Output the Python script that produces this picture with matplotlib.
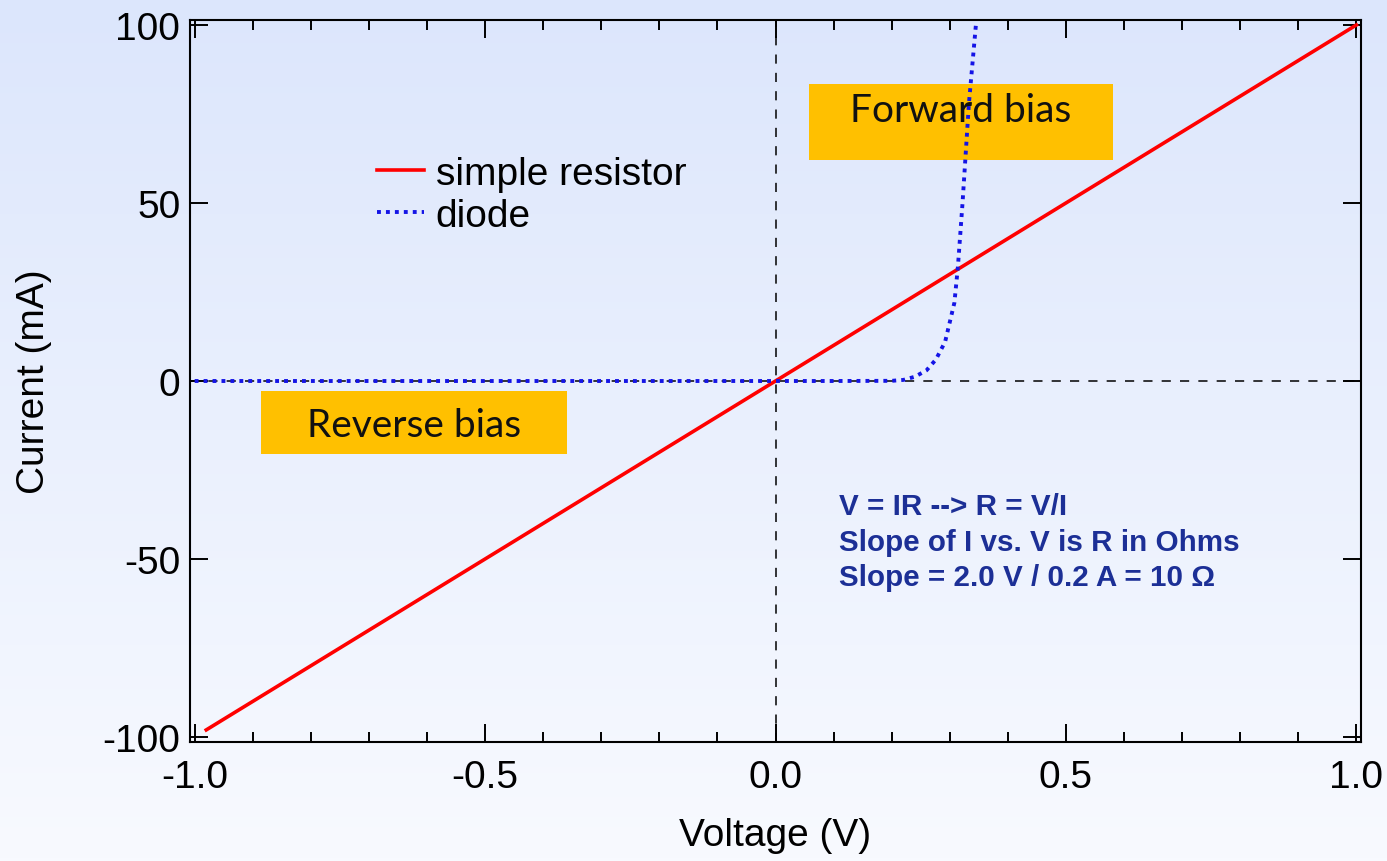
import matplotlib
matplotlib.use('Agg')
import matplotlib.pyplot as plt
from matplotlib.patches import Rectangle
import numpy as np

plt.rcParams['font.family'] = ['Liberation Sans', 'DejaVu Sans']

# ---------------------------------------------------------------------------
# Data
# ---------------------------------------------------------------------------
RES_V = [-0.98, 1.0]
RES_I = [-98.0, 100.0]

DIODE_V = [-1.0, -0.5, 0.0, 0.10, 0.20, 0.22, 0.24, 0.26, 0.276, 0.292,
           0.300, 0.308, 0.314, 0.322, 0.333, 0.345]
DIODE_I = [0.0, 0.0, 0.0, 0.0, 0.05, 0.3, 1.2, 3.0, 6.0, 11.0,
           16.5, 22.0, 32.0, 50.0, 78.0, 100.0]

X_TICKS = [-1.0, -0.5, 0.0, 0.5, 1.0]
X_TICK_LABELS = ['-1.0', '-0.5', '0.0', '0.5', '1.0']
Y_TICKS = [-100, -50, 0, 50, 100]
Y_TICK_LABELS = ['-100', '-50', '0', '50', '100']

NOTE_LINES = ['V = IR --> R = V/I',
              'Slope of I vs. V is R in Ohms',
              'Slope = 2.0 V / 0.2 A = 10 \u03a9']

# ---------------------------------------------------------------------------
# Colours
# ---------------------------------------------------------------------------
RED = '#ff0000'
BLUE = '#1414e6'
GOLD = '#ffc000'
NAVY = '#1c2f96'
BG_TOP = np.array([220, 230, 252]) / 255.0
BG_BOTTOM = np.array([248, 250, 255]) / 255.0

fig = plt.figure(figsize=(13.87, 8.62), dpi=100)

# gradient background
bg = fig.add_axes([0, 0, 1, 1], zorder=0)
t = np.linspace(0, 1, 256)[:, None]
grad = BG_TOP[None, None, :] * (1 - t[:, :, None]) + BG_BOTTOM[None, None, :] * t[:, :, None]
bg.imshow(grad, aspect='auto', extent=[0, 1, 0, 1])
bg.axis('off')

ax = fig.add_axes([190 / 1387, 119 / 862, 1171 / 1387, 722 / 862], zorder=1)
ax.set_facecolor('none')

ax.axhline(0, color='black', linestyle=(0, (6, 6)), linewidth=1.1, zorder=1)
ax.axvline(0, color='black', linestyle=(0, (6, 6)), linewidth=1.1, zorder=1)

ax.plot(RES_V, RES_I, color=RED, linewidth=2.6, label='simple resistor', zorder=3)
ax.plot(DIODE_V, DIODE_I, color=BLUE, linewidth=2.8, linestyle=(0, (1, 1.3)),
        label='diode', zorder=3)

ax.set_xlim(-1.008, 1.008)
ax.set_ylim(-101.4, 101.4)
ax.set_xticks(X_TICKS)
ax.set_xticklabels(X_TICK_LABELS)
ax.set_yticks(Y_TICKS)
ax.set_yticklabels(Y_TICK_LABELS)
ax.set_xticks(np.arange(-1.0, 1.01, 0.1), minor=True)

ax.tick_params(axis='both', which='both', direction='in', top=True, right=True,
               width=1.4, colors='black', labelsize=28)
ax.tick_params(axis='both', which='major', length=13)
ax.tick_params(axis='both', which='minor', length=7)
ax.tick_params(axis='x', pad=12)
ax.tick_params(axis='y', pad=7)
for sp in ax.spines.values():
    sp.set_linewidth(1.5)

ax.set_xlabel('Voltage (V)', fontsize=28)
ax.set_ylabel('Current (mA)', fontsize=28)
ax.xaxis.set_label_coords(0.5, -0.104)
ax.yaxis.set_label_coords(-0.118, 0.5)

# bias boxes
ax.add_patch(Rectangle((0.058, 62.1), 0.523, 21.3, facecolor=GOLD,
                       edgecolor='none', zorder=2))
ax.text(0.3195, 76.0, 'Forward bias', ha='center', va='center',
        fontsize=28, family=['Lato', 'DejaVu Sans'],
        color='#111111', zorder=4)
ax.add_patch(Rectangle((-0.885, -20.6), 0.526, 17.9, facecolor=GOLD,
                       edgecolor='none', zorder=2))
ax.text(-0.623, -12.3, 'Reverse bias', ha='center', va='center',
        fontsize=28, family=['Lato', 'DejaVu Sans'],
        color='#111111', zorder=4)

ax.text(0.109, -31.3, '\n'.join(NOTE_LINES), ha='left', va='top',
        fontsize=21.3, fontweight='bold', color=NAVY, linespacing=1.33, zorder=4)

leg = ax.legend(loc='upper left', bbox_to_anchor=(0.160, 0.812), frameon=False,
                fontsize=28, handlelength=1.2, handletextpad=0.3,
                labelspacing=0.15, borderpad=0, borderaxespad=0)

fig.savefig('out.png', dpi=100)
